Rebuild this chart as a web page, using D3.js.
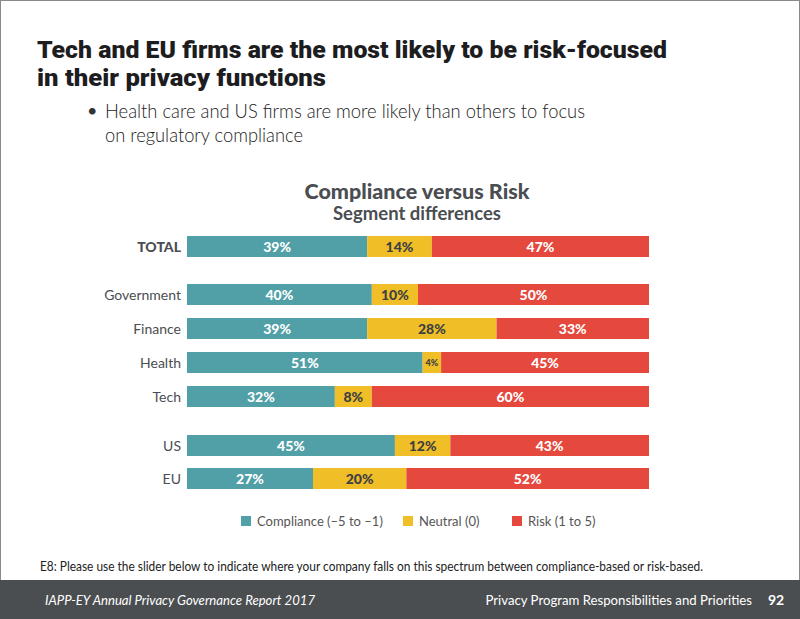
<!DOCTYPE html>
<html><head><meta charset="utf-8">
<script src="https://cdn.jsdelivr.net/npm/d3@7"></script>
<style>body{margin:0;background:#fff}svg{display:block}</style>
</head><body>
<svg id="c" width="800" height="619"></svg>
<script>
const categories = ["TOTAL","Government","Finance","Health","Tech","US","EU"];
const compliance = [39,40,39,51,32,45,27];
const neutral = [14,10,28,4,8,12,20];
const risk = [47,50,33,45,60,43,52];
const seriesNames = ["Compliance (\u20135 to \u20131)","Neutral (0)","Risk (1 to 5)"];
const colors = ["#519fa7","#f0be26","#e5493e"];
const labelColors = ["#fff","#3d4043","#fff"];

const svg = d3.select("#c");
const font = "Lato, 'Open Sans', sans-serif";

// page border
svg.append("rect").attr("x",0.5).attr("y",0.5).attr("width",799).attr("height",618).attr("fill","none").attr("stroke","#8a8a8a");

// Titles
svg.append("text").attr("x",37).attr("y",58).attr("font-family","Roboto, sans-serif").attr("font-weight",900)
  .attr("font-size",24).attr("fill","#1d1d1f").attr("textLength",630).attr("lengthAdjust","spacingAndGlyphs")
  .text("Tech and EU firms are the most likely to be risk-focused");
svg.append("text").attr("x",37).attr("y",86).attr("font-family","Roboto, sans-serif").attr("font-weight",900)
  .attr("font-size",24).attr("fill","#1d1d1f").attr("textLength",289).attr("lengthAdjust","spacingAndGlyphs")
  .text("in their privacy functions");
svg.append("text").attr("x",87).attr("y",117).attr("font-family",font).attr("font-size",18).attr("fill","#333").text("\u2022");
svg.append("text").attr("x",105).attr("y",118).attr("font-family",font).attr("font-weight",300).attr("font-size",19.5).attr("fill","#222")
  .attr("textLength",480).attr("lengthAdjust","spacingAndGlyphs")
  .text("Health care and US firms are more likely than others to focus");
svg.append("text").attr("x",105).attr("y",142).attr("font-family",font).attr("font-weight",300).attr("font-size",19.5).attr("fill","#222")
  .attr("textLength",198).attr("lengthAdjust","spacingAndGlyphs")
  .text("on regulatory compliance");

// chart titles
svg.append("text").attr("x",417).attr("y",199).attr("text-anchor","middle").attr("font-family",font).attr("font-weight",900)
  .attr("font-size",21.5).attr("fill","#4a4d51").text("Compliance versus Risk");
svg.append("text").attr("x",417).attr("y",220).attr("text-anchor","middle").attr("font-family",font).attr("font-weight",700)
  .attr("font-size",18.5).attr("fill","#4a4d51").text("Segment differences");

// data table
const rows = categories.map((c,i)=>({cat:c, c:compliance[i], n:neutral[i], r:risk[i]}));
const keys = ["c","n","r"];
const stacked = d3.stack().keys(keys).offset(d3.stackOffsetExpand)(rows);

const x = d3.scaleLinear().domain([0,1]).range([187,649]);
const rowTop = [236,284,318,352,386,435,468];
const y = d3.scaleOrdinal().domain(categories).range(rowTop);
const barH = 21;

const g = svg.append("g");
stacked.forEach((s,si)=>{
  g.selectAll(null).data(s).enter().append("rect")
    .attr("x",d=>x(d[0])).attr("y",d=>y(d.data.cat))
    .attr("width",d=>x(d[1])-x(d[0])).attr("height",barH)
    .attr("fill",colors[si]);
  g.selectAll(null).data(s).enter().append("text")
    .attr("x",d=>(x(d[0])+x(d[1]))/2).attr("y",d=>y(d.data.cat)+barH/2)
    .attr("dy","0.36em").attr("text-anchor","middle")
    .attr("font-family",font).attr("font-weight",900)
    .attr("font-size",d=>d.data[keys[si]]<6?9:14)
    .attr("fill",labelColors[si])
    .text(d=>d.data[keys[si]]+"%");
});

// row labels
svg.selectAll(null).data(categories).enter().append("text")
  .attr("x",181).attr("y",d=>y(d)+barH/2).attr("dy","0.36em").attr("text-anchor","end")
  .attr("font-family",font).attr("font-size",14)
  .attr("font-weight",d=>d==="TOTAL"?900:400)
  .attr("fill","#4a4d51").text(d=>d);

// legend
const legX = [241,403,512];
const lg = svg.append("g");
seriesNames.forEach((n,i)=>{
  lg.append("rect").attr("x",legX[i]).attr("y",516).attr("width",10).attr("height",10).attr("fill",colors[i]);
  lg.append("text").attr("x",legX[i]+16).attr("y",526).attr("font-family",font).attr("font-size",13).attr("fill","#555").text(n);
});

// footnote
svg.append("text").attr("x",40).attr("y",571).attr("font-family",font).attr("font-size",12.5).attr("fill","#222")
  .attr("textLength",663).attr("lengthAdjust","spacingAndGlyphs")
  .text("E8:  Please use the slider below to indicate where your company falls on this spectrum between compliance-based or risk-based.");

// footer
svg.append("rect").attr("x",0).attr("y",580).attr("width",800).attr("height",39).attr("fill","#4b4e51");
svg.append("text").attr("x",45).attr("y",605).attr("font-family",font).attr("font-style","italic").attr("font-size",14)
  .attr("fill","#fff").attr("textLength",270).attr("lengthAdjust","spacingAndGlyphs")
  .text("IAPP-EY Annual Privacy Governance Report 2017");
svg.append("text").attr("x",752).attr("y",605).attr("text-anchor","end").attr("font-family",font).attr("font-size",13.2)
  .attr("fill","#fff").text("Privacy Program Responsibilities and Priorities");
svg.append("text").attr("x",768).attr("y",605).attr("font-family",font).attr("font-weight",700).attr("font-size",14)
  .attr("fill","#fff").text("92");
</script>
</body></html>
